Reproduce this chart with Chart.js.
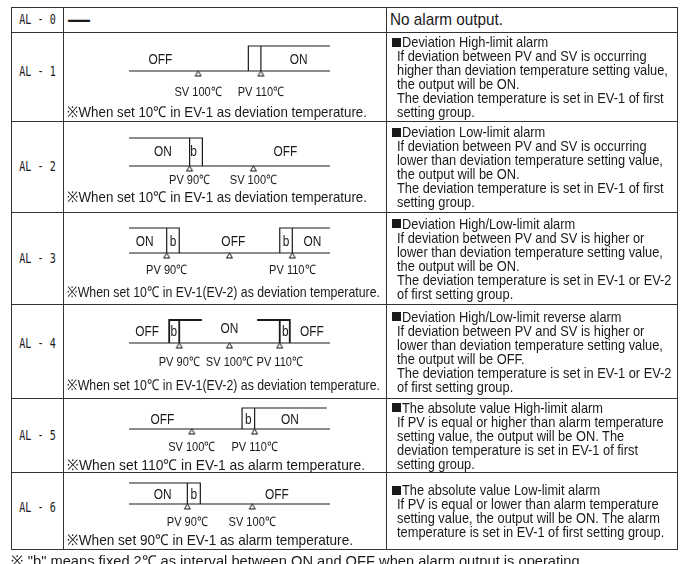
<!DOCTYPE html>
<html>
<head>
<meta charset="utf-8">
<script src="https://cdn.jsdelivr.net/npm/chart.js@4.4.1/dist/chart.umd.min.js"></script>
<style>
html, body { margin: 0; padding: 0; background: #fff; }
body { width: 686px; height: 564px; overflow: hidden; position: relative; color: #1a1a1a;
  font-family: "Liberation Sans", Arial, sans-serif; }
#grid { position: absolute; left: 11px; top: 7px; display: grid;
  grid-template-columns: 52px 323px 291px;
  grid-template-rows: 25px 89px 91px 92px 94px 74px 77px;
  border-left: 1px solid #333; border-top: 1px solid #333; }
.cell { position: relative; box-sizing: border-box; border-right: 1px solid #333; border-bottom: 1px solid #333; }
.code { position: absolute; left: 0; right: 0; text-align: center; font-family: "DejaVu Sans Mono", monospace;
  font-size: 14px; line-height: 14px; transform: scaleX(0.72); }
.desc { display: flex; flex-direction: column; justify-content: center; height: 100%; font-size: 15px; line-height: 14px; white-space: nowrap; }
.desc div { padding-left: 10px; }
.desc div.title { padding-left: 5px; }
.fit { display: inline-block; transform-origin: 0 50%; }
.sq { display: inline-block; width: 9px; height: 9px; background: #1a1a1a; margin-right: 1px; position: relative; top: -1px; vertical-align: middle; }
.note { position: absolute; left: 3px; font-size: 15px; line-height: 16px; white-space: nowrap; }
.dash { position: absolute; left: 4px; top: 2px; font-size: 22px; line-height: 20px; font-weight: bold; }
.big { font-size: 17px; padding-left: 3px !important; }
canvas { position: absolute; left: 0; top: 0; }
#foot { position: absolute; left: 11px; top: 553px; font-size: 15px; line-height: 16px; white-space: nowrap; }
</style>
</head>
<body>
<div id="grid"></div>
<div id="foot"></div>
<script>
// ---- data ----
const codes = ['AL - 0', 'AL - 1', 'AL - 2', 'AL - 3', 'AL - 4', 'AL - 5', 'AL - 6'];

const descLines = [
  ['No alarm output.'],
  ['Deviation High-limit alarm', 'If deviation between PV and SV is occurring', 'higher than deviation temperature setting value,', 'the output will be ON.', 'The deviation temperature is set in EV-1 of first', 'setting group.'],
  ['Deviation Low-limit alarm', 'If deviation between PV and SV is occurring', 'lower than deviation temperature setting value,', 'the output will be ON.', 'The deviation temperature is set in EV-1 of first', 'setting group.'],
  ['Deviation High/Low-limit alarm', 'If deviation between PV and SV is higher or', 'lower than deviation temperature setting value,', 'the output will be ON.', 'The deviation temperature is set in EV-1 or EV-2', 'of first setting group.'],
  ['Deviation High/Low-limit reverse alarm', 'If deviation between PV and SV is higher or', 'lower than deviation temperature setting value,', 'the output will be OFF.', 'The deviation temperature is set in EV-1 or EV-2', 'of first setting group.'],
  ['The absolute value High-limit alarm', 'If PV is equal or higher than alarm temperature', 'setting value, the output will be ON. The', 'deviation temperature is set in EV-1 of first', 'setting group.'],
  ['The absolute value Low-limit alarm', 'If PV is equal or lower than alarm temperature', 'setting value, the output will be ON. The alarm', 'temperature is set in EV-1 of first setting group.']
];

const notes = [
  '※When set 10℃ in EV-1 as deviation temperature.',
  '※When set 10℃ in EV-1 as deviation temperature.',
  '※When set 10℃ in EV-1(EV-2) as deviation temperature.',
  '※When set 10℃ in EV-1(EV-2) as deviation temperature.',
  '※When set 110℃ in EV-1 as alarm temperature.',
  '※When set 90℃ in EV-1 as alarm temperature.'
];

const footnote = '※ "b" means fixed 2℃ as interval between ON and OFF when alarm output is operating.';

// temperature span (°C) drawn for each diagram AL-1..AL-6
const axisRange = [[89, 121], [80.5, 112], [84, 116], [80, 120], [90, 122], [81, 112]];

// marks on the temperature line: [label, °C]
const markers = [
  [['SV 100℃', 100], ['PV 110℃', 110]],
  [['PV 90℃', 90], ['SV 100℃', 100]],
  [['PV 90℃', 90], ['', 100], ['PV 110℃', 110]],
  [['PV 90℃', 90], ['SV 100℃', 100], ['PV 110℃', 110]],
  [['SV 100℃', 100], ['PV 110℃', 110]],
  [['PV 90℃', 90], ['SV 100℃', 100]]
];

// output traces as [°C, level] points, level 0 = OFF line, 1 = ON line
const traces = [
  [[[89, 0], [121, 0]], [[108, 0], [108, 1], [121, 1]], [[110, 0], [110, 1]]],
  [[[80.5, 0], [112, 0]], [[80.5, 1], [92, 1], [92, 0]], [[90, 0], [90, 1]]],
  [[[84, 0], [116, 0]], [[84, 1], [92, 1], [92, 0]], [[90, 0], [90, 1]], [[108, 0], [108, 1], [116, 1]], [[110, 0], [110, 1]]],
  [[[80, 0], [120, 0]], [[88, 0], [88, 1], [94.5, 1]], [[90, 0], [90, 1]], [[105.5, 1], [112, 1], [112, 0]], [[110, 0], [110, 1]]],
  [[[90, 0], [122, 0]], [[108, 0], [108, 1], [121.5, 1]], [[110, 0], [110, 1]]],
  [[[81, 0], [112, 0]], [[81, 1], [92, 1], [92, 0]], [[90, 0], [90, 1]]]
];

// state captions: [text, °C, level]
const states = [
  [['OFF', 94, 0.45], ['ON', 116, 0.45]],
  [['ON', 85.8, 0.5], ['b', 90.6, 0.5], ['OFF', 105, 0.5]],
  [['ON', 86.5, 0.44], ['b', 91, 0.44], ['OFF', 100.6, 0.44], ['b', 109, 0.44], ['ON', 113.2, 0.44]],
  [['OFF', 83.6, 0.48], ['b', 88.9, 0.48], ['ON', 100, 0.6], ['b', 111.1, 0.48], ['OFF', 116.4, 0.48]],
  [['OFF', 95.3, 0.43], ['b', 109, 0.43], ['ON', 115.6, 0.43]],
  [['ON', 86.2, 0.43], ['b', 91, 0.43], ['OFF', 103.8, 0.43]]
];

// ---- layout (px) ----
const rowHeights = [25, 89, 91, 92, 94, 74, 77];
const codeTop = [4, 31, 37, 38, 31, 29, 27];
const plotBox = [[13, 38], [16, 44], [15, 40], [15, 38], [9, 30], [10, 31]]; // ON line, OFF line
const labelDrop = [21, 14, 17, 19, 18, 18];
const noteTop = [71, 67, 71, 72, 58, 59];
const noteWidth = [300, 300, 313, 313, 298, 286];
const descSquash = 0.855;
const thickRows = [3];

// triangle used for the PV / SV marks (apex sits on the point)
const tri = document.createElement('canvas');
tri.width = 9; tri.height = 13;
(function () {
  const c = tri.getContext('2d');
  c.fillStyle = '#fff'; c.strokeStyle = '#111'; c.lineWidth = 1;
  c.beginPath(); c.moveTo(4.5, 6.5); c.lineTo(7.5, 11.5); c.lineTo(1.5, 11.5); c.closePath();
  c.fill(); c.stroke();
})();

function squashText(ctx, txt, x, y, k) {
  ctx.save();
  ctx.translate(x, y);
  ctx.scale(k, 1);
  ctx.fillText(txt, 0, 0);
  ctx.restore();
}

const captions = {
  id: 'captions',
  afterDatasetsDraw(chart, args, opts) {
    const { ctx, scales: { x, y } } = chart;
    ctx.save();
    ctx.fillStyle = '#1a1a1a';
    ctx.textAlign = 'center';
    ctx.textBaseline = 'middle';
    ctx.font = '14px "Liberation Sans", sans-serif';
    opts.states.forEach(([txt, t, lv]) => squashText(ctx, txt, x.getPixelForValue(t), y.getPixelForValue(lv), 0.85));
    ctx.font = '13px "Liberation Sans", sans-serif';
    const base = y.getPixelForValue(0);
    opts.markers.forEach(([txt, t]) => { if (txt) squashText(ctx, txt, x.getPixelForValue(t), base + opts.drop, 0.85); });
    ctx.restore();
  }
};

const fit = (txt, k) => '<span class="fit" style="transform:scaleX(' + k + ')">' + txt + '</span>';

const grid = document.getElementById('grid');
const toFit = [];
codes.forEach((code, i) => {
  const c1 = document.createElement('div');
  c1.className = 'cell';
  c1.innerHTML = '<div class="code" style="top:' + codeTop[i] + 'px">' + code + '</div>';
  const c2 = document.createElement('div');
  c2.className = 'cell';
  const c3 = document.createElement('div');
  c3.className = 'cell';
  const d = document.createElement('div');
  d.className = 'desc';
  if (i === 0) {
    d.innerHTML = '<div class="big">' + fit(descLines[0][0], 0.9) + '</div>';
    c2.innerHTML = '<div class="dash">—</div>';
  } else {
    d.innerHTML = descLines[i].map((l, k) => k === 0
      ? '<div class="title"><span class="sq"></span>' + fit(l, descSquash) + '</div>'
      : '<div>' + fit(l, descSquash) + '</div>').join('');
  }
  c3.appendChild(d);
  grid.append(c1, c2, c3);

  if (i === 0) return;
  const r = i - 1;
  const H = rowHeights[i] - 1;
  const cv = document.createElement('canvas');
  cv.width = 322; cv.height = H;
  c2.appendChild(cv);
  const note = document.createElement('div');
  note.className = 'note';
  note.style.top = noteTop[r] + 'px';
  note.innerHTML = '<span class="fit">' + notes[r] + '</span>';
  c2.appendChild(note);
  toFit.push([note.firstChild, noteWidth[r]]);

  const lw = thickRows.includes(r) ? 1.8 : 1.2;
  const datasets = traces[r].map((tr, k) => ({
    data: tr.map(([t, lv]) => ({ x: t, y: lv })),
    showLine: true,
    borderColor: '#1a1a1a',
    borderWidth: k === 0 ? 1.2 : lw,
    pointRadius: 0,
    clip: false
  }));
  datasets.push({
    data: markers[r].map(([, t]) => ({ x: t, y: 0 })),
    pointStyle: tri,
    pointRadius: 4,
    clip: false
  });

  new Chart(cv, {
    type: 'scatter',
    data: { datasets },
    options: {
      responsive: false,
      animation: false,
      events: [],
      layout: { padding: { left: 65, right: 56, top: plotBox[r][0], bottom: H - plotBox[r][1] } },
      scales: {
        x: { type: 'linear', min: axisRange[r][0], max: axisRange[r][1], display: false },
        y: { min: 0, max: 1, display: false }
      },
      plugins: {
        legend: { display: false },
        tooltip: { enabled: false },
        captions: { states: states[r], markers: markers[r], drop: labelDrop[r] }
      }
    },
    plugins: [captions]
  });
});

const foot = document.getElementById('foot');
foot.innerHTML = '<span class="fit">' + footnote + '</span>';
toFit.push([foot.firstChild, 573]);

// squeeze each note to the width it takes in the reference
toFit.forEach(([el, w]) => {
  const nat = el.getBoundingClientRect().width;
  el.style.transform = 'scaleX(' + (w / nat).toFixed(3) + ')';
});
</script>
</body>
</html>
